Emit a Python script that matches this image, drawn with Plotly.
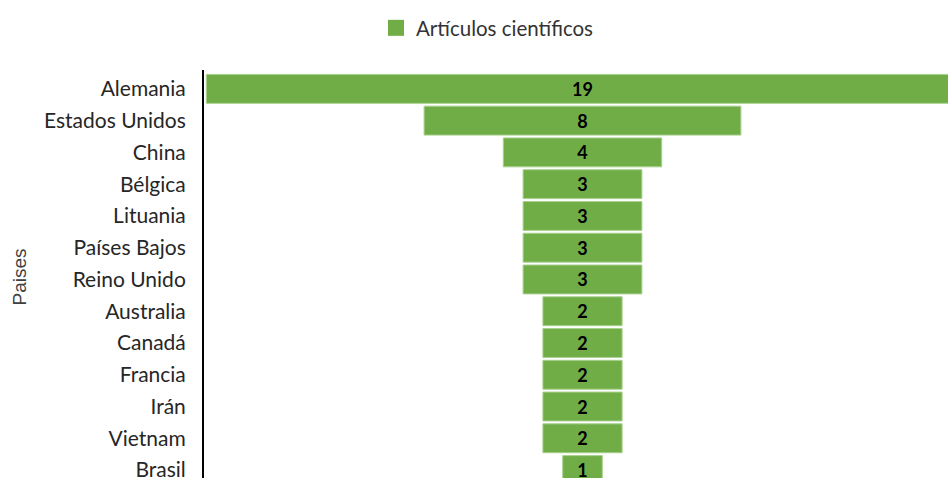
import plotly.graph_objects as go

# Countries ordered by number of scientific articles
paises = ["Alemania", "Estados Unidos", "China", "Bélgica", "Lituania",
          "Países Bajos", "Reino Unido", "Australia", "Canadá", "Francia",
          "Irán", "Vietnam", "Brasil"]
articulos = [19, 8, 4, 3, 3, 3, 3, 2, 2, 2, 2, 2, 1]

serie = "Artículos científicos"
verde = "#70AD47"
label_font = "Lato"

W, H = 948, 481
left, top = 204, 70

fig = go.Figure()

fig.add_trace(go.Funnel(
    y=paises,
    x=articulos,
    name=serie,
    showlegend=False,
    marker=dict(color=verde, line=dict(width=1, color="#A9D18E")),
    connector=dict(visible=False),
    texttemplate="<b>%{x}</b>",
    textposition="inside",
    insidetextanchor="middle",
    constraintext="none",
    textfont=dict(family=label_font, size=18, color="#000000"),
))

# legend entry with a larger square swatch
fig.add_trace(go.Scatter(
    x=[None], y=[None], mode="markers", name=serie,
    marker=dict(symbol="square", size=16, color=verde),
    showlegend=True, hoverinfo="skip",
))

# horizontal scale: bars centred on 0, ~39.6 px per article
px_per_unit = 39.6
center_px = 582.5
x_lo = -(center_px - left) / px_per_unit
x_hi = (W - center_px) / px_per_unit

# vertical scale: 32 px per category, first row centred at y=89
row_px = 32.0
first_center = 89.0
y_top = -(first_center - top) / row_px
y_bot = (H - first_center) / row_px

fig.update_layout(
    width=W, height=H,
    margin=dict(l=left, r=0, t=top, b=0, pad=0),
    paper_bgcolor="white",
    plot_bgcolor="white",
    funnelgap=0.09,
    xaxis=dict(visible=False, range=[x_lo, x_hi], fixedrange=True),
    yaxis=dict(
        type="category",
        categoryorder="array",
        categoryarray=paises,
        range=[y_bot, y_top],
        showline=True, linecolor="#000000", linewidth=2,
        showgrid=False, ticks="", zeroline=False,
        ticklabelstandoff=12,
        tickfont=dict(family=label_font, size=21, color="#262626"),
    ),
    legend=dict(
        orientation="h",
        xref="container", yref="container",
        x=376 / W, xanchor="left",
        y=1 - 8 / H, yanchor="top",
        font=dict(family=label_font, size=20.5, color="#333333"),
        itemsizing="trace",
    ),
    annotations=[dict(
        text="Paises",
        xref="paper", yref="paper",
        x=-(left - 19) / (W - left), y=1 - (279 - top) / (H - top),
        xanchor="center", yanchor="middle",
        textangle=-90, showarrow=False,
        font=dict(family="Liberation Sans", size=19, color="#404040"),
    )],
)

fig.write_html("out.html")
